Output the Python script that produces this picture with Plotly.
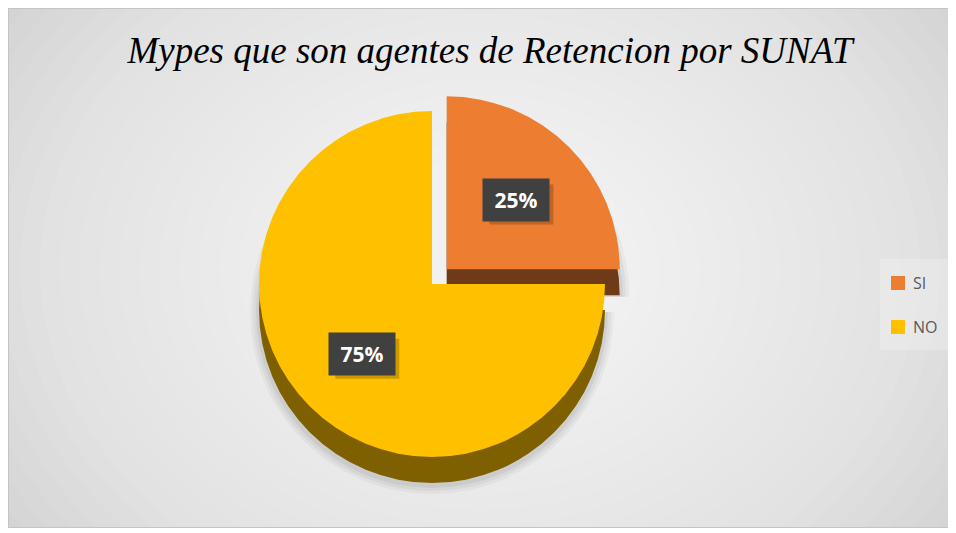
import math
import plotly.graph_objects as go

# ---- data ----
labels = ["SI", "NO"]
values = [25, 75]
top_colors = ["#ED7D31", "#FFC000"]
side_colors = ["#6E3A17", "#7F6000"]
title_text = "Mypes que son agentes de Retencion por SUNAT"

# ---- layout geometry (page pixels; the page body adds an 8px margin) ----
OFF = 8
W, H = 944, 520


def fx(p):
    return (p - OFF) / W


def fy(p):
    return 1 - (p - OFF) / H


cx, cy = 432, 284        # pie centre (page px)
R = 173                  # pie radius
PULL = 0.12              # pull of SI slice
DEPTH = 26               # 3D side depth
LABEL_F = 0.57           # label distance as fraction of radius

half = R * (1 + PULL)


def dom(dx=0, dy=0, grow=0):
    h = half + grow * (1 + PULL)
    return dict(x=[max(0, fx(cx + dx - h)), min(1, fx(cx + dx + h))],
                y=[max(0, fy(cy + dy + h)), min(1, fy(cy + dy - h))])


pulls = [PULL if l == "SI" else 0 for l in labels]
common = dict(labels=labels, values=values, sort=False, direction="clockwise",
              rotation=0, pull=pulls, textinfo="none", showlegend=False)

fig = go.Figure()
# soft drop shadow
for g, a in [(9, 0.035), (6, 0.045), (3, 0.055)]:
    fig.add_trace(go.Pie(**common, hoverinfo="skip",
                         marker=dict(colors=[f"rgba(0,0,0,{a})"] * len(labels),
                                     line=dict(width=0)),
                         domain=dom(dy=DEPTH + 2, grow=g)))
# side (depth) of the pie
fig.add_trace(go.Pie(**common, hoverinfo="skip",
                     marker=dict(colors=side_colors, line=dict(width=0)),
                     domain=dom(dy=DEPTH)))
# top surface
fig.add_trace(go.Pie(**common, hoverinfo="label+percent",
                     marker=dict(colors=top_colors, line=dict(width=0)),
                     domain=dom()))

shapes = []
annotations = []

# ---- background: chart area with radial gradient ----
gx, gy, A, B, N = 480, 270, 600, 480, 30
for i in range(N, 0, -1):
    k = i / N
    shapes.append(dict(type="circle", xref="paper", yref="paper", layer="below",
                       x0=fx(gx - A * k), x1=fx(gx + A * k),
                       y0=fy(gy + B * k), y1=fy(gy - B * k),
                       fillcolor="rgba(255,255,255,0.064)", line=dict(width=0)))
shapes.append(dict(type="rect", xref="paper", yref="paper", layer="below",
                   x0=0, x1=1, y0=0, y1=1, fillcolor="rgba(0,0,0,0)",
                   line=dict(color="#c4c4c4", width=2)))

# ---- data labels (positions derived from the values) ----
total = sum(values)
start = 0.0
BW, BH = 64, 40
for lab, v, p in zip(labels, values, pulls):
    frac = v / total
    mid = (start + frac / 2) * 2 * math.pi  # clockwise from 12 o'clock
    start += frac
    ux, uy = math.sin(mid), -math.cos(mid)
    px = cx + ux * R * (p + LABEL_F)
    py = cy + uy * R * (p + LABEL_F)
    shapes.append(dict(type="rect", xref="paper", yref="paper", layer="above",
                       x0=fx(px - BW / 2 + 5), x1=fx(px + BW / 2 + 5),
                       y0=fy(py + BH / 2 + 5), y1=fy(py - BH / 2 + 5),
                       fillcolor="rgba(0,0,0,0.2)", line=dict(width=0)))
    annotations.append(dict(
        x=fx(px), y=fy(py), xref="paper", yref="paper",
        xanchor="center", yanchor="middle",
        text=f"<b>{round(frac * 100)}%</b>", showarrow=False,
        width=BW, height=BH, bgcolor="#404040",
        font=dict(color="white", size=21, family="Open Sans"),
    ))

# ---- legend (drawn from labels / colours) ----
LX, LY0, LDY = 891, 283, 44
shapes.append(dict(type="rect", xref="paper", yref="paper", layer="below",
                   x0=fx(880), x1=1, y0=fy(350), y1=fy(259),
                   fillcolor="rgba(255,255,255,0.22)", line=dict(width=0)))
for i, (lab, col) in enumerate(zip(labels, top_colors)):
    yy = LY0 + i * LDY
    shapes.append(dict(type="rect", xref="paper", yref="paper",
                       x0=fx(LX), x1=fx(LX + 14), y0=fy(yy + 7), y1=fy(yy - 7),
                       fillcolor=col, line=dict(width=0)))
    annotations.append(dict(x=fx(LX + 20), y=fy(yy), xref="paper", yref="paper",
                            xanchor="left", yanchor="middle", showarrow=False,
                            text=lab, font=dict(family="Open Sans", size=16,
                                                color="#595959")))

fig.update_layout(
    width=W, height=H,
    margin=dict(l=0, r=0, t=0, b=0),
    paper_bgcolor="#cfcfcf", plot_bgcolor="rgba(0,0,0,0)",
    title=dict(text=title_text, x=fx(490), xanchor="center",
               y=fy(50), yanchor="middle", yref="container",
               font=dict(family="Liberation Serif", size=37, color="black",
                         style="italic")),
    showlegend=False,
    shapes=shapes,
    annotations=annotations,
)

fig.write_html("out.html")
